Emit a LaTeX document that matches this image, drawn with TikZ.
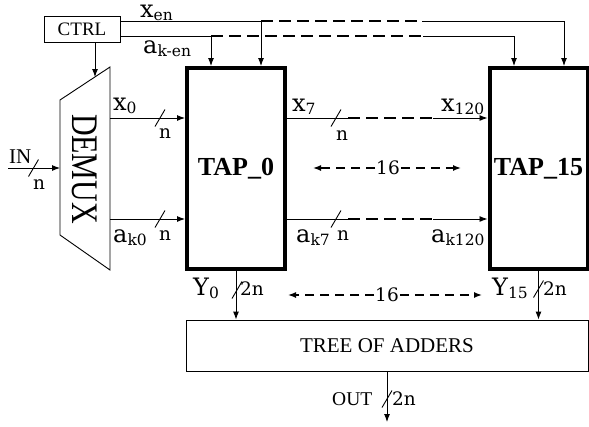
\documentclass[tikz,border=0pt]{standalone}
\usepackage{fontspec}
\usepackage{graphicx}
\setmainfont{Liberation Serif}
\newfontfamily\labfont{DejaVu Serif}
\usetikzlibrary{arrows.meta,calc}
\newcommand\lbl[2]{{\labfont\fontsize{24}{24}\selectfont #1\raisebox{-3pt}{\fontsize{15.5}{15.5}\selectfont #2}}}
\newcommand\nlbl[1]{{\labfont\fontsize{18.5}{18.5}\selectfont #1}}
\tikzset{nslash/.pic={\draw[line width=0.9pt] (-5,8.5) -- (5,-8.5);}}
\begin{document}
\begin{tikzpicture}[x=1pt,y=-1pt,
  wire/.style={line width=0.9pt},
  dwire/.style={line width=2.2pt, dash pattern=on 12pt off 6pt},
  darr/.style={line width=1.4pt, dash pattern=on 9pt off 6pt},
  arr/.style={-{Latex[length=8pt,width=6pt]}},
  tapbox/.style={draw, line width=4pt, minimum width=98pt, minimum height=201pt, inner sep=0pt, outer sep=2pt, font=\fontsize{26}{26}\selectfont\bfseries},
  plainbox/.style={draw, line width=0.9pt, inner sep=0pt},
  lab/.style={inner sep=0pt, anchor=base west},
  num/.style={inner sep=1pt, font=\labfont\fontsize{18.5}{18.5}\selectfont}]
\useasboundingbox (0,0) rectangle (589,426);

% boxes
\node[plainbox, minimum width=76pt, minimum height=26pt, font=\fontsize{19}{19}\selectfont] (ctrl) at (82,29) {CTRL};
\node[tapbox] (tap0) at (236,168.5) {TAP\_0};
\node[tapbox] (tap15) at (538.5,168.5) {TAP\_15};
\node[plainbox, minimum width=402pt, minimum height=51pt, font=\fontsize{21}{21}\selectfont] (tree) at (387,345.5) {TREE OF ADDERS};

% demux
\coordinate (dtl) at (60,100);
\coordinate (dtr) at (110,67);
\coordinate (dbr) at (110,270);
\coordinate (dbl) at (60,235);
\draw[wire] (dtl) -- (dtr) -- (dbr) -- (dbl) -- cycle;
\node[rotate=-90, inner sep=0pt, font=\fontsize{30}{30}\selectfont] (demux) at (85,169) {\scalebox{1}[1.25]{DEMUX}};

% control
\coordinate (dmxin) at (95,77);
\draw[wire,arr] (ctrl.south -| dmxin) -- (dmxin);
\coordinate (xa) at (261,21);
\coordinate (xb) at (422,21);
\coordinate (xc) at (564,21);
\coordinate (aa) at (211,36);
\coordinate (ab) at (423,36);
\coordinate (ac) at (514,36);
\draw[wire] (ctrl.east |- xa) -- (xa);
\draw[dwire] (xa) -- (xb);
\draw[wire,arr] (xb) -- (xc) -- (xc |- tap15.north);
\draw[wire,arr] (xa) -- (xa |- tap0.north);
\draw[wire] (ctrl.east |- aa) -- (aa);
\draw[dwire] (aa) -- (ab);
\draw[wire,arr] (ab) -- (ac) -- (ac |- tap15.north);
\draw[wire,arr] (aa) -- (aa |- tap0.north);

% input
\coordinate (inp) at (8,168);
\draw[wire,arr] (inp) -- (inp -| dtl);
\pic at (33.5,168) {nslash};
\node[lab, font=\fontsize{21}{21}\selectfont] (lin) at (9,163) {IN};
\node[lab] (nin) at (33,189) {\nlbl{n}};

% demux -> tap0
\coordinate (xrow) at (110,118);
\coordinate (arow) at (110,219);
\draw[wire,arr] (xrow) -- (xrow -| tap0.west);
\draw[wire,arr] (arow) -- (arow -| tap0.west);
\pic at (160,118) {nslash};
\pic at (160,219) {nslash};
\node[lab] (lx0) at (113,110) {\lbl{x}{0}};
\node[lab] (lak0) at (113,242) {\lbl{a}{k0}};
\node[lab] (nx0) at (159,138) {\nlbl{n}};
\node[lab] (nak0) at (159,240) {\nlbl{n}};

% tap0 -> tap15
\coordinate (xd1) at (348,118);
\coordinate (xd2) at (433,118);
\coordinate (ad1) at (348,219);
\coordinate (ad2) at (433,219);
\draw[wire] (tap0.east |- xrow) -- (xd1);
\draw[dwire] (xd1) -- (xd2);
\draw[wire,arr] (xd2) -- (xd2 -| tap15.west);
\draw[wire] (tap0.east |- arow) -- (ad1);
\draw[dwire] (ad1) -- (ad2);
\draw[wire,arr] (ad2) -- (ad2 -| tap15.west);
\pic at (336,118) {nslash};
\pic at (336,219) {nslash};
\node[lab] (lx7) at (292,111) {\lbl{x}{7}};
\node[lab] (lx120) at (441,111) {\lbl{x}{120}};
\node[lab] (lak7) at (296,242) {\lbl{a}{k7}};
\node[lab] (lak120) at (431,242) {\lbl{a}{k120}};
\node[lab] (nx7) at (336,140) {\nlbl{n}};
\node[lab] (nak7) at (337,240) {\nlbl{n}};

% labels
\node[lab] (lxen) at (140,17) {\lbl{x}{en}};
\node[lab] (laken) at (143,53) {\lbl{a}{k-en}};

% 16 arrows
\node[num] (sixa) at (388,168) {16};
\coordinate (sixal) at (313,168);
\coordinate (sixar) at (461,168);
\draw[darr,arr] (sixa.west) -- (sixal);
\draw[darr,arr] (sixa.east) -- (sixar);
\node[num] (sixb) at (387,295) {16};
\coordinate (sixbl) at (288,295);
\coordinate (sixbr) at (482,295);
\draw[darr,arr] (sixb.west) -- (sixbl);
\draw[darr,arr] (sixb.east) -- (sixbr);

% outputs
\draw[wire,arr] (tap0.south) -- (tap0.south |- tree.north);
\draw[wire,arr] (tap15.south) -- (tap15.south |- tree.north);
\pic at (237,290) {nslash};
\pic at (538.5,289) {nslash};
\node[lab] (ly0) at (193,295) {\lbl{Y}{0}};
\node[lab] (ly15) at (492,295) {\lbl{Y}{15}};
\node[lab] (n2a) at (240,295) {\nlbl{2n}};
\node[lab] (n2b) at (543,295) {\nlbl{2n}};

\coordinate (outp) at (387,422);
\draw[wire,arr] (tree.south) -- (outp);
\pic at (387,399) {nslash};
\node[lab, font=\fontsize{19.5}{19.5}\selectfont] (lout) at (332,405) {OUT};
\node[lab] (n2c) at (392,405) {\nlbl{2n}};
\end{tikzpicture}
\end{document}
